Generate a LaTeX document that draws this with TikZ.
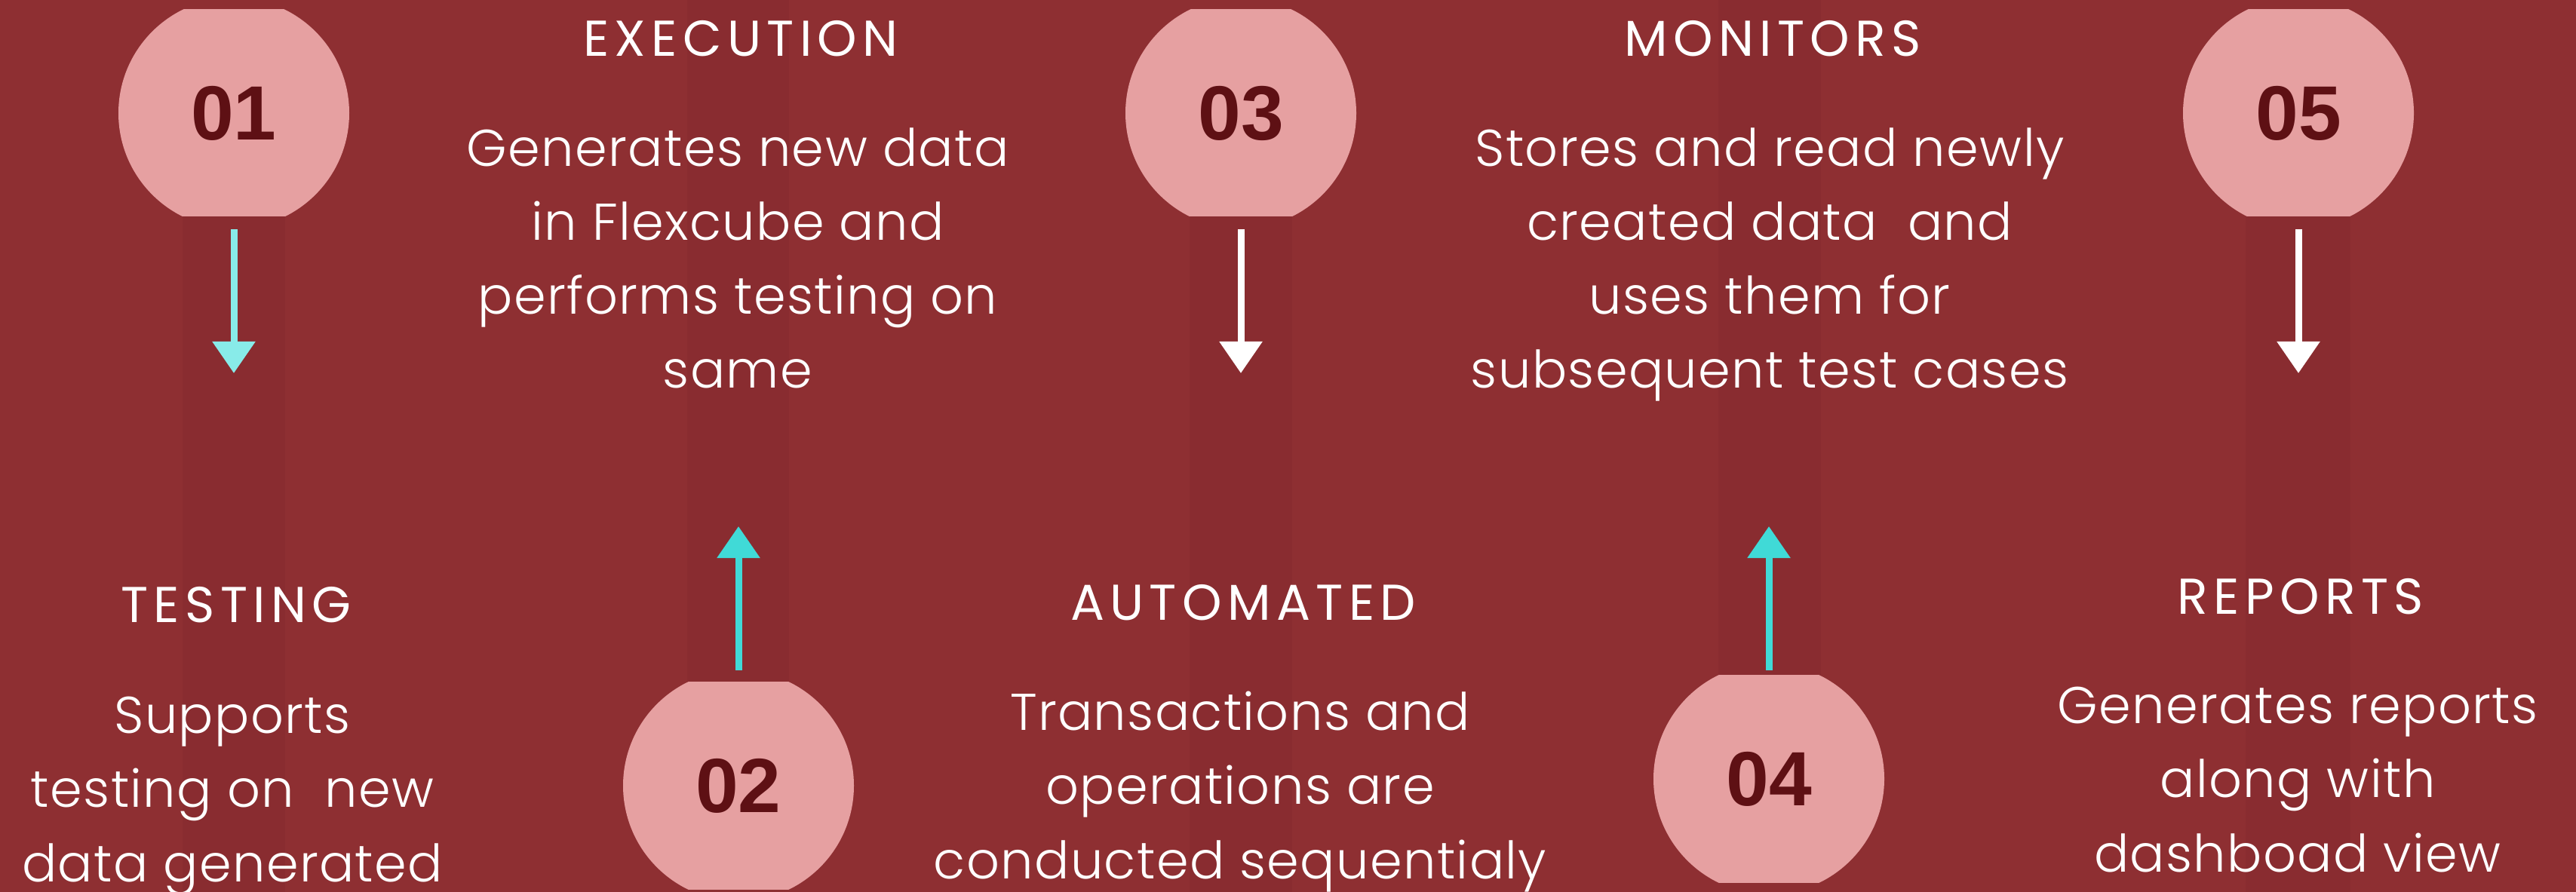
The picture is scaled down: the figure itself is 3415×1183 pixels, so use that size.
\documentclass[tikz,border=0pt]{standalone}
\usepackage{fontspec}
\setmainfont{Poppins Light}[LetterSpace=2]
\newfontfamily\headfont[LetterSpace=11]{Poppins}
\newfontfamily\numfont{Liberation Sans}
\usetikzlibrary{arrows.meta}

\definecolor{bgred}{HTML}{8E2F32}
\definecolor{stripered}{HTML}{892C30}
\definecolor{discpink}{HTML}{E6A0A1}
\definecolor{digitred}{HTML}{5E1014}
\definecolor{paleaqua}{HTML}{88EBE9}
\definecolor{aqua}{HTML}{40DAD7}

\tikzset{
	disc/.style={fill=discpink},
	flow/.style={line width=0.09cm, -{Triangle[length=0.42cm, width=0.55cm]}},
	number/.style={font=\numfont\bfseries\fontsize{29}{31}\selectfont, text=digitred},
	title/.style={font=\headfont\fontsize{19}{22}\selectfont, text=white, anchor=base},
	% anchor base = baseline of the last line
	blurb/.style={font=\fontsize{19.5}{27.9}\selectfont, text=white, align=center, anchor=base}
}

\begin{document}
\begin{tikzpicture}[x=0.01cm, y=-0.01cm]

	\useasboundingbox (0,0) rectangle (3415,1183);

	% background and darker stripes
	\fill[bgred] (0,0) rectangle (3415,1183);
	\fill[stripered] (242,287) rectangle (378,1183);
	\fill[stripered] (911,0) rectangle (1046,905);
	\fill[stripered] (1577,287) rectangle (1713,1183);
	\fill[stripered] (2278,0) rectangle (2414,897);
	\fill[stripered] (2977,287) rectangle (3116,1183);

	% discs, cut flat at top and bottom
	\foreach \cx/\cy in {310/150, 979/1042, 1645/150, 2345/1033, 3047/150} {
		\begin{scope}
			\clip (\cx-160,\cy-137) rectangle (\cx+160,\cy+137);
			\fill[disc] (\cx,\cy) circle (153);
		\end{scope}
	}

	% numbers
	\node[number] (n1) at (310,150) {01};
	\node[number] (n2) at (979,1042) {02};
	\node[number] (n3) at (1645,150) {03};
	\node[number] (n4) at (2345,1033) {04};
	\node[number] (n5) at (3047,150) {05};

	% arrows
	\coordinate (a1s) at (310,304);  \coordinate (a1e) at (310,495);
	\coordinate (a2s) at (979,889);  \coordinate (a2e) at (979,698);
	\coordinate (a3s) at (1645,304); \coordinate (a3e) at (1645,495);
	\coordinate (a4s) at (2345,889); \coordinate (a4e) at (2345,698);
	\coordinate (a5s) at (3047,304); \coordinate (a5e) at (3047,495);
	\draw[flow, paleaqua] (a1s) -- (a1e);
	\draw[flow, aqua] (a2s) -- (a2e);
	\draw[flow, white] (a3s) -- (a3e);
	\draw[flow, aqua] (a4s) -- (a4e);
	\draw[flow, white] (a5s) -- (a5e);

	% titles
	\node[title] (t1) at (313,826) {TESTING};
	\node[title] (t2) at (982,75) {EXECUTION};
	\node[title] (t3) at (1648,823) {AUTOMATED};
	\node[title] (t4) at (2350,75) {MONITORS};
	\node[title] (t5) at (3050,815) {REPORTS};

	% descriptions
	\node[blurb] (b1) at (308,1169) {Supports\\testing on\ \ new\\data generated};
	\node[blurb] (b2) at (978,515) {Generates new data\\in Flexcube and\\performs testing on\\same};
	\node[blurb] (b3) at (1644,1165) {Transactions and\\operations are\\conducted sequentialy};
	\node[blurb] (b4) at (2346,515) {Stores and read newly\\created data\ \ and\\uses them for\\subsequent test cases};
	\node[blurb] (b5) at (3046,1156) {Generates reports\\along with\\dashboad view};

\end{tikzpicture}
\end{document}
